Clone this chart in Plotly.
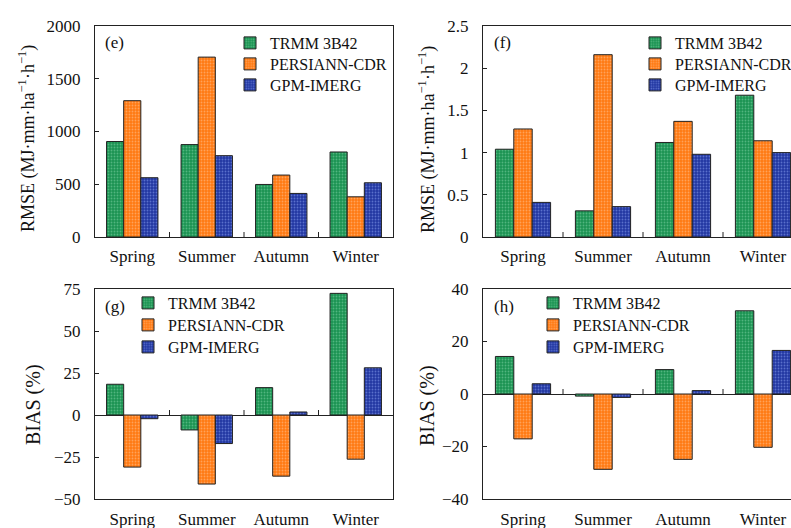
import plotly.graph_objects as go

seasons = ["Spring", "Summer", "Autumn", "Winter"]
series_names = ["TRMM 3B42", "PERSIANN-CDR", "GPM-IMERG"]

# Panel (e) RMSE, MJ·mm·ha-1·h-1
rmse_e_trmm = [905, 876, 498, 806]
rmse_e_persiann = [1292, 1705, 587, 381]
rmse_e_gpm = [562, 771, 413, 514]
# Panel (f) RMSE
rmse_f_trmm = [1.04, 0.31, 1.12, 1.68]
rmse_f_persiann = [1.28, 2.16, 1.37, 1.14]
rmse_f_gpm = [0.41, 0.36, 0.98, 1.00]
# Panel (g) BIAS %
bias_g_trmm = [18.3, -8.9, 16.3, 72.4]
bias_g_persiann = [-31.0, -41.1, -36.4, -26.3]
bias_g_gpm = [-2.2, -17.0, 1.8, 28.1]
# Panel (h) BIAS %
bias_h_trmm = [14.3, -0.8, 9.3, 31.7]
bias_h_persiann = [-17.1, -28.7, -24.9, -20.3]
bias_h_gpm = [3.9, -1.3, 1.3, 16.6]

W, H = 791, 528
FONT = "Liberation Serif"
fills = ["#1b9352", "#ff7a12", "#2237a2"]
dots = ["#52b57f", "#ffa25a", "#5a70cc"]


def xf(px):
    return px / W


def yf(py):
    return 1 - py / H


panels = [
    dict(key="", data=[rmse_e_trmm, rmse_e_persiann, rmse_e_gpm],
         xd=[95, 393], yd=[26, 237], yr=[0, 2000], dt=500, xr=[-0.5, 3.5], box=True,
         leg=(270, [43, 64, 85]), xstand=4),
    dict(key="2", data=[rmse_f_trmm, rmse_f_persiann, rmse_f_gpm],
         xd=[483, 791], yd=[26, 237], yr=[0, 2.5], dt=0.5, xr=[-0.5, 3.5 - 12 / 80], box=False,
         leg=(675, [43, 64, 85]), xstand=4),
    dict(key="3", data=[bias_g_trmm, bias_g_persiann, bias_g_gpm],
         xd=[95, 393], yd=[289, 499], yr=[-50, 75], dt=25, xr=[-0.5, 3.5], box=True,
         leg=(168, [303, 325, 347]), xstand=5),
    dict(key="4", data=[bias_h_trmm, bias_h_persiann, bias_h_gpm],
         xd=[483, 791], yd=[289, 499], yr=[-40, 40], dt=20, xr=[-0.5, 3.5 - 12 / 80], box=False,
         leg=(573, [303, 325, 347]), xstand=5),
]

fig = go.Figure()
layout = dict(
    template="none",
    width=W, height=H, margin=dict(l=0, r=0, t=0, b=0, autoexpand=False),
    paper_bgcolor="white", plot_bgcolor="white",
    barmode="group", bargap=0.31, bargroupgap=0,
    font=dict(family=FONT, color="#111", size=17),
    showlegend=True,
)
shapes = []
leg_n = 0
for p in panels:
    k = p["key"]
    tx, rows = p["leg"]
    for i, (name, vals) in enumerate(zip(series_names, p["data"])):
        leg_n += 1
        lk = "legend" if leg_n == 1 else "legend%d" % leg_n
        fig.add_trace(go.Bar(
            x=seasons, y=vals, name=name,
            xaxis="x" + k, yaxis="y" + k, legend=lk,
            marker=dict(color=fills[i], line=dict(color="#222", width=1),
                        pattern=dict(shape=".", fgcolor=dots[i], bgcolor=fills[i],
                                     size=3, solidity=0.3)),
        ))
        layout[lk] = dict(x=xf(tx - 40), y=yf(rows[i]), xanchor="left", yanchor="middle",
                          bgcolor="rgba(0,0,0,0)", borderwidth=0,
                          font=dict(size=16, family=FONT, color="#111"),
                          itemclick=False, itemdoubleclick=False)
    layout["xaxis" + k] = dict(
        domain=[xf(p["xd"][0]), xf(p["xd"][1])], anchor="y" + k, automargin=False,
        range=p["xr"], showline=True, linecolor="#222", linewidth=1,
        mirror=True, ticks="", showgrid=False, zeroline=False,
        tickfont=dict(size=17, family=FONT, color="#111"), ticklabelstandoff=p["xstand"],
        fixedrange=True,
    )
    layout["yaxis" + k] = dict(
        domain=[yf(p["yd"][1]), yf(p["yd"][0])], anchor="x" + k, automargin=False,
        range=p["yr"], dtick=p["dt"], tick0=0, showline=True, linecolor="#222", linewidth=1,
        mirror=p["box"], ticks="inside", ticklen=4, tickcolor="#222",
        showgrid=False, zeroline=True, zerolinecolor="#222", zerolinewidth=1,
        tickfont=dict(size=17, family=FONT, color="#111"), ticklabelstandoff=10,
    )
    # category boundary tick marks on the zero line
    for b in [0.5, 1.5, 2.5]:
        shapes.append(dict(type="line", xref="x" + k, yref="y" + k, x0=b, x1=b,
                           ysizemode="pixel", yanchor=0, y0=0, y1=5,
                           line=dict(color="#222", width=1)))

annotations = []
for txt, x, y in [("(e)", 103, 43), ("(f)", 492, 43), ("(g)", 103, 306), ("(h)", 492, 306)]:
    annotations.append(dict(text=txt, xref="paper", yref="paper", x=xf(x), y=yf(y),
                            xanchor="left", yanchor="middle", showarrow=False,
                            font=dict(size=17, family=FONT, color="#111")))
rmse_title = "RMSE (MJ·mm·ha<sup>−1</sup>·h<sup>−1</sup>)"
for txt, x, y, s in [(rmse_title, 27, 139, 18), (rmse_title, 427, 139, 18),
                     ("BIAS (%)", 33, 405, 20), ("BIAS (%)", 427, 405, 20)]:
    annotations.append(dict(text=txt, xref="paper", yref="paper", x=xf(x), y=yf(y),
                            xanchor="center", yanchor="middle", showarrow=False,
                            textangle=-90, font=dict(size=s, family=FONT, color="#111")))
layout["shapes"] = shapes
layout["annotations"] = annotations
fig.update_layout(**layout)
fig.write_html("out.html")
